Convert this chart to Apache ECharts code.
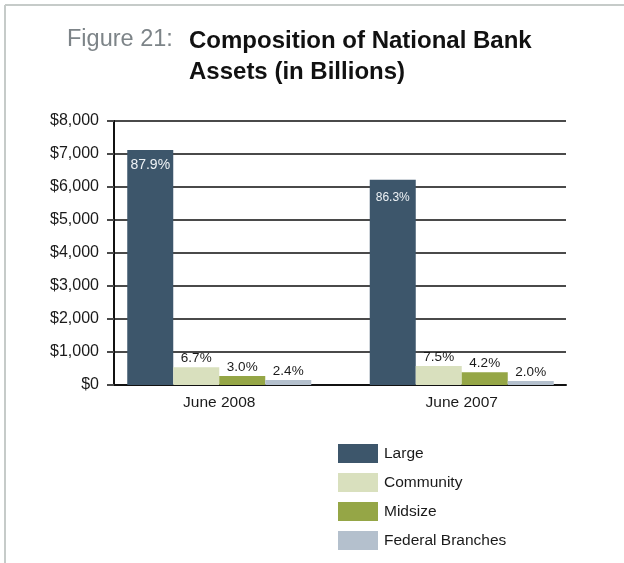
<!DOCTYPE html>
<html>
<head>
<meta charset="utf-8">
<script src="https://cdn.jsdelivr.net/npm/echarts@6/dist/echarts.min.js"></script>
<style>
  html, body { margin: 0; padding: 0; background: #fff; }
  #chart { width: 624px; height: 563px; }
</style>
</head>
<body>
<div id="chart"></div>
<script>
// National bank assets by bank group, in billions of dollars
const periods = ['June 2008', 'June 2007'];
const large = [7120, 6220];
const community = [540, 575];
const midsize = [275, 390];
const federalBranches = [155, 125];

// Share of total assets printed on each bar
const largePct = ['87.9%', '86.3%'];
const communityPct = ['6.7%', '7.5%'];
const midsizePct = ['3.0%', '4.2%'];
const federalPct = ['2.4%', '2.0%'];

const yTicks = { min: 0, max: 8000, interval: 1000 };

const FONT = "'Liberation Sans', Arial, Helvetica, sans-serif";
const COLORS = { large: '#3d566b', community: '#d9e0be', midsize: '#95a646', federal: '#b4c0cd' };

const chart = echarts.init(document.getElementById('chart'), null, { renderer: 'canvas' });

function barSeries(name, values, pcts, color, labelOpts) {
  return {
    name: name,
    type: 'bar',
    xAxisIndex: 1,
    yAxisIndex: 1,
    barWidth: 46,
    barGap: '0%',
    itemStyle: { color: color },
    data: values.map(function (v, i) {
      const item = { value: v };
      if (labelOpts && labelOpts[i]) item.label = labelOpts[i];
      return item;
    }),
    label: {
      show: true,
      position: 'top',
      distance: 2,
      fontFamily: FONT,
      fontSize: 13.5,
      color: '#1a1a1a',
      formatter: function (p) { return pcts[p.dataIndex]; }
    },
    z: 3
  };
}

const option = {
  animation: false,
  backgroundColor: '#ffffff',
  textStyle: { fontFamily: FONT },
  title: [
    {
      text: 'Figure 21:',
      left: 62,
      top: 23,
      textStyle: { fontFamily: FONT, fontWeight: 'normal', fontSize: 23.5, color: '#7d8488' }
    },
    {
      text: 'Composition of National Bank\nAssets (in Billions)',
      left: 184,
      top: 21,
      textStyle: { fontFamily: FONT, fontWeight: 'bold', fontSize: 24, lineHeight: 31, color: '#111' }
    }
  ],
  graphic: [
    { type: 'line', shape: { x1: 5, y1: 5, x2: 624, y2: 5 }, style: { stroke: '#c6cbc9', lineWidth: 2 } },
    { type: 'line', shape: { x1: 5, y1: 5, x2: 5, y2: 563 }, style: { stroke: '#c6cbc9', lineWidth: 2 } }
  ],
  legend: {
    orient: 'vertical',
    left: 333,
    top: 439,
    itemWidth: 40,
    itemHeight: 19,
    itemGap: 10,
    icon: 'rect',
    textStyle: { fontFamily: FONT, fontSize: 15.5, color: '#1a1a1a', padding: [0, 0, 0, 1] },
    data: ['Large', 'Community', 'Midsize', 'Federal Branches']
  },
  grid: [
    // value scale with gridlines
    { left: 114, right: 58, top: 121, bottom: 178 },
    // bar placement
    { left: 98, right: 41, top: 121, bottom: 178 }
  ],
  xAxis: [
    {
      gridIndex: 0,
      type: 'category',
      data: periods,
      axisLine: { show: true, lineStyle: { color: '#111', width: 2 } },
      axisTick: { show: false },
      axisLabel: { show: false }
    },
    {
      gridIndex: 1,
      type: 'category',
      data: periods,
      axisLine: { show: false },
      axisTick: { show: false },
      axisLabel: { fontFamily: FONT, fontSize: 15.5, color: '#1a1a1a', margin: 10 }
    }
  ],
  yAxis: [
    {
      gridIndex: 0,
      type: 'value',
      min: yTicks.min,
      max: yTicks.max,
      interval: yTicks.interval,
      axisLine: { show: true, lineStyle: { color: '#111', width: 2 } },
      axisTick: { show: true, length: 7, lineStyle: { color: '#4a4a4a', width: 2 } },
      splitLine: { show: true, lineStyle: { color: '#4a4a4a', width: 2 } },
      axisLabel: {
        fontFamily: FONT,
        fontSize: 16,
        color: '#1a1a1a',
        margin: 15,
        formatter: function (v) { return '$' + v.toLocaleString('en-US'); }
      }
    },
    {
      gridIndex: 1,
      type: 'value',
      min: yTicks.min,
      max: yTicks.max,
      show: false,
      splitLine: { show: false }
    }
  ],
  series: [
    barSeries('Large', large, largePct, COLORS.large, [
      { position: 'insideTop', distance: 8, color: '#eef2f5', fontSize: 14 },
      { position: 'insideTop', distance: 12, color: '#eef2f5', fontSize: 12 }
    ]),
    barSeries('Community', community, communityPct, COLORS.community),
    barSeries('Midsize', midsize, midsizePct, COLORS.midsize),
    barSeries('Federal Branches', federalBranches, federalPct, COLORS.federal)
  ]
};

chart.setOption(option);
</script>
</body>
</html>
